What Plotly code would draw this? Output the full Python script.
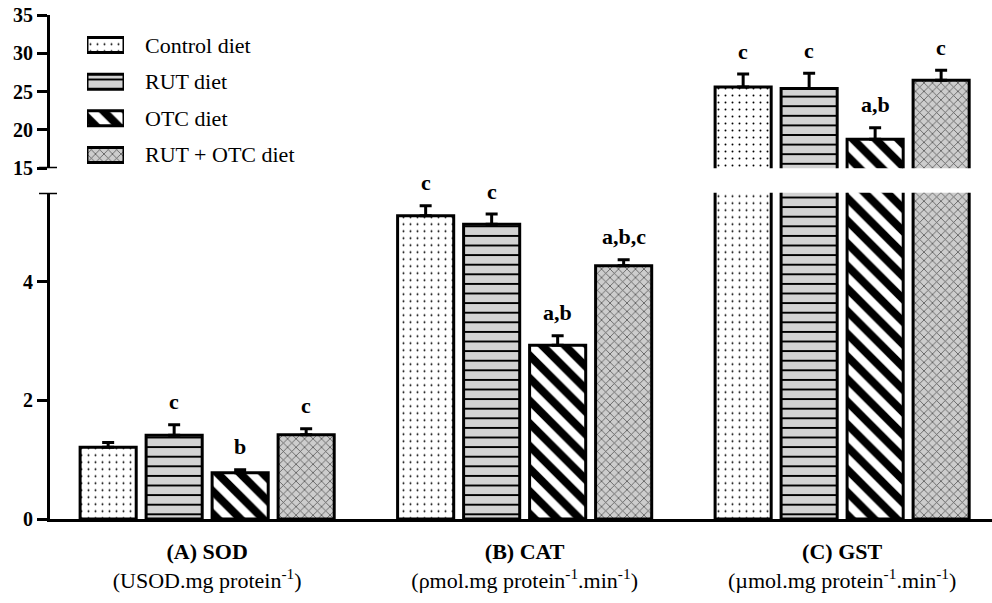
import plotly.graph_objects as go

# ---------------- data ----------------
groups = ["(A) SOD", "(B) CAT", "(C) GST"]
units = ["(USOD.mg protein<sup>-1</sup>)",
         "(ρmol.mg protein<sup>-1</sup>.min<sup>-1</sup>)",
         "(µmol.mg protein<sup>-1</sup>.min<sup>-1</sup>)"]
diets = ["Control diet", "RUT diet", "OTC diet", "RUT + OTC diet"]

control_mean = [1.21, 5.11, 25.6]
control_err = [0.08, 0.17, 1.7]
rut_mean = [1.41, 4.97, 25.4]
rut_err = [0.18, 0.17, 2.0]
otc_mean = [0.78, 2.93, 18.8]
otc_err = [0.05, 0.16, 1.5]
rutotc_mean = [1.42, 4.27, 26.5]
rutotc_err = [0.10, 0.10, 1.3]

control_letters = ["", "c", "c"]
rut_letters = ["c", "c", "c"]
otc_letters = ["b", "a,b", "a,b"]
rutotc_letters = ["c", "a,b,c", "c"]

lower_ticks = [0, 2, 4]
upper_ticks = [15, 20, 25, 30, 35]
lower_range = [0, 5.5]
upper_range = [15, 35]

means = [control_mean, rut_mean, otc_mean, rutotc_mean]
errs = [control_err, rut_err, otc_err, rutotc_err]
letters = [control_letters, rut_letters, otc_letters, rutotc_letters]

# ---------------- styles ----------------
FONT = "Liberation Serif, Times New Roman, serif"
patterns = [
    dict(shape=".", fgcolor="black", bgcolor="white", size=7, solidity=0.06, fgopacity=1),
    dict(shape="-", fgcolor="black", bgcolor="#d2d2d2", size=9.6, solidity=0.2, fgopacity=1),
    dict(shape="\\", fgcolor="black", bgcolor="white", size=16, solidity=0.5, fgopacity=1),
    dict(shape="x", fgcolor="#555555", bgcolor="#cdcdcd", size=6, solidity=0.25, fgopacity=1),
]

bargap = 0.1685
bargroupgap = 0.15
slot = (1 - bargap) / 4

xpos = list(range(len(groups)))

fig = go.Figure()

for yaxis in ["y", "y2"]:
    for i, d in enumerate(diets):
        fig.add_trace(go.Bar(
            x=xpos, y=means[i], name=d, xaxis="x", yaxis=yaxis,
            marker=dict(color=patterns[i]["bgcolor"], pattern=patterns[i],
                        line=dict(color="black", width=3)),
            error_y=dict(type="data", symmetric=False, array=errs[i],
                         arrayminus=[0] * len(groups),
                         color="black", thickness=3, width=6),
            showlegend=False, hoverinfo="skip",
        ))

# custom legend swatches
for i, d in enumerate(diets):
    fig.add_trace(go.Bar(
        x=[1], y=[len(diets) - 1 - i], orientation="h", base=0,
        width=0.41, offset=-0.205,
        xaxis="x3", yaxis="y3",
        marker=dict(color=patterns[i]["bgcolor"], pattern=patterns[i],
                    line=dict(color="black", width=3)),
        showlegend=False, hoverinfo="skip",
    ))

W, H = 992, 603
t, b, l = 15, 84, 50
ph = H - t - b
pw = W - l
lower_top = (519 - 192.7) / ph
upper_bot = (519 - 168.3) / ph

annotations = []
for i, d in enumerate(diets):
    annotations.append(dict(
        x=(143 - 50) / pw, xref="paper", y=len(diets) - 1 - i, yref="y3",
        text=d, showarrow=False, xanchor="left", yanchor="middle",
        font=dict(family=FONT, size=22, color="black")))

# significance letters
for i in range(len(diets)):
    for g in range(len(groups)):
        if not letters[i][g]:
            continue
        top = means[i][g] + errs[i][g]
        yref = "y2" if top > upper_range[0] else "y"
        annotations.append(dict(
            x=xpos[g] + (i - 1.5) * slot, xref="x", y=top, yref=yref,
            text="<b>" + letters[i][g] + "</b>", showarrow=False,
            xanchor="center", yanchor="middle", yshift=23,
            font=dict(family=FONT, size=22, color="black")))

ticktext = ["<b>" + g + "</b><br>" + u for g, u in zip(groups, units)]

axis_common = dict(showline=True, linewidth=3, linecolor="black",
                   ticks="outside", ticklen=10, tickwidth=3, tickcolor="black",
                   showgrid=False, zeroline=False, automargin=False,
                   ticklabeloverflow="allow",
                   tickfont=dict(family=FONT, size=20, color="black", weight="bold"))

fig.update_layout(
    width=W, height=H,
    margin=dict(l=l, r=0, t=t, b=b, autoexpand=False),
    paper_bgcolor="white", plot_bgcolor="rgba(0,0,0,0)",
    barmode="group", bargap=bargap, bargroupgap=bargroupgap,
    font=dict(family=FONT, color="black"),
    xaxis=dict(domain=[0, 1], range=[-0.495, 2.472], tickvals=xpos,
               ticktext=ticktext, showline=True, linewidth=3, linecolor="black",
               ticks="", showgrid=False, zeroline=False, anchor="y",
               ticklabelstandoff=11, automargin=False,
               tickfont=dict(family=FONT, size=22, color="black")),
    yaxis=dict(domain=[0, lower_top], range=lower_range, tickvals=lower_ticks,
               anchor="x", **axis_common),
    yaxis2=dict(domain=[upper_bot, 1], range=upper_range, tickvals=upper_ticks,
                anchor="x", **axis_common),
    xaxis3=dict(domain=[(87 - 50) / pw, (124 - 50) / pw], range=[0, 1],
                visible=False, anchor="y3", fixedrange=True),
    yaxis3=dict(domain=[(519 - 173.3) / ph, (519 - 26.7) / ph], range=[-0.5, 3.5],
                visible=False, anchor="x3", fixedrange=True),
    annotations=annotations,
    shapes=[
        dict(type="line", xref="paper", yref="y", x0=-11 / pw, x1=7 / pw,
             y0=lower_range[1], y1=lower_range[1], line=dict(color="black", width=3)),
        dict(type="line", xref="paper", yref="y2", x0=-11 / pw, x1=7 / pw,
             y0=upper_range[0], y1=upper_range[0], line=dict(color="black", width=3)),
    ],
)

# remove the default 8px page margin so the figure fills the window exactly
fig.write_html("out.html",
               config={"displayModeBar": False, "staticPlot": True},
               post_script="document.body.style.margin='0';document.body.style.overflow='hidden';")
